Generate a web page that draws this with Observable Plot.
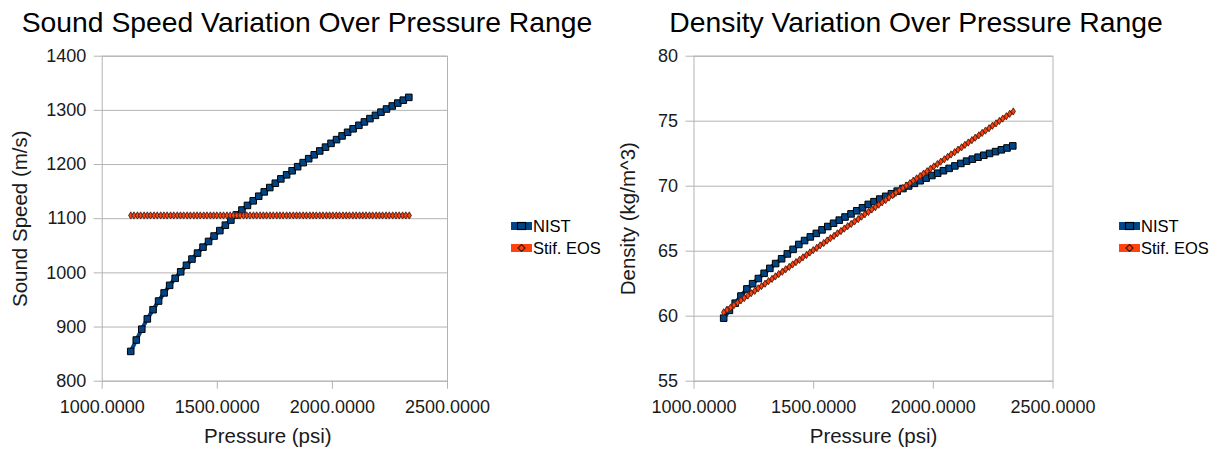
<!DOCTYPE html>
<html><head><meta charset="utf-8">
<script src="https://cdn.jsdelivr.net/npm/d3@7"></script>
<script src="https://cdn.jsdelivr.net/npm/@observablehq/plot@0.6"></script>
<style>
body{margin:0;background:#fff;font-family:"Liberation Sans",Arial,sans-serif;}
#root{position:relative;width:1220px;height:449px;overflow:hidden;background:#fff}
.title{position:absolute;top:6px;font-size:28.3px;text-align:center;white-space:nowrap;color:#000;line-height:32px}
.chart{position:absolute;top:40px}
.legend{position:absolute;font-size:16.5px;color:#000;line-height:22px}
.legend .row{display:flex;align-items:center;height:22px}
.legend svg{margin-right:1px}
</style></head><body><div id="root"></div><script>
// ---------- data ----------
const seriesNames = ["NIST", "Stif. EOS"];
const nistPressure = [1124,1148,1172,1196,1221,1245,1269,1293,1317,1341,1366,1390,1414,1438,1462,1486,1511,1535,1559,1583,1607,1631,1656,1680,1704,1728,1752,1776,1801,1825,1849,1873,1897,1921,1945,1970,1994,2018,2042,2066,2090,2115,2139,2163,2187,2211,2235,2260,2284,2308,2332];
const nistSoundSpeed = [855,876,896,915,932,948,963,977,990,1002,1014,1025.5,1036.5,1047.5,1058,1068,1078,1088,1097.5,1107,1116,1124.5,1133,1141.5,1149.5,1157.5,1165.5,1173.5,1181,1188.5,1196,1203.5,1210.8,1218,1225.1,1232.1,1239.1,1246,1252.8,1259.5,1266,1272.4,1278.7,1284.8,1290.8,1296.7,1302.5,1308.1,1313.5,1318.8,1324];
const nistDensity = [59.85,60.45,61.0,61.55,62.1,62.5,62.9,63.3,63.68,64.05,64.42,64.79,65.14,65.52,65.82,66.1,66.37,66.64,66.9,67.15,67.39,67.63,67.87,68.11,68.34,68.6,68.81,69.01,69.22,69.42,69.62,69.82,70.02,70.22,70.42,70.62,70.82,71.0,71.19,71.37,71.56,71.75,71.93,72.08,72.23,72.38,72.52,72.66,72.8,72.94,73.1];
const eosPressure = [1124,1138,1153,1167,1182,1196,1210,1225,1239,1254,1268,1282,1297,1311,1326,1340,1354,1369,1383,1398,1412,1426,1441,1455,1470,1484,1498,1513,1527,1542,1556,1570,1585,1599,1614,1628,1642,1657,1671,1686,1700,1714,1729,1743,1758,1772,1786,1801,1815,1830,1844,1858,1873,1887,1902,1916,1930,1945,1959,1974,1988,2002,2017,2031,2046,2060,2074,2089,2103,2118,2132,2146,2161,2175,2190,2204,2218,2233,2247,2262,2276,2290,2305,2319,2334];
const eosSoundSpeed = [1106,1106,1106,1106,1106,1106,1106,1106,1106,1106,1106,1106,1106,1106,1106,1106,1106,1106,1106,1106,1106,1106,1106,1106,1106,1106,1106,1106,1106,1106,1106,1106,1106,1106,1106,1106,1106,1106,1106,1106,1106,1106,1106,1106,1106,1106,1106,1106,1106,1106,1106,1106,1106,1106,1106,1106,1106,1106,1106,1106,1106,1106,1106,1106,1106,1106,1106,1106,1106,1106,1106,1106,1106,1106,1106,1106,1106,1106,1106,1106,1106,1106,1106,1106,1106];
const eosDensity = [60.30,60.48,60.67,60.85,61.03,61.22,61.40,61.59,61.77,61.95,62.14,62.32,62.50,62.69,62.87,63.06,63.24,63.42,63.61,63.79,63.98,64.16,64.34,64.53,64.71,64.90,65.08,65.26,65.45,65.63,65.82,66.00,66.18,66.37,66.55,66.74,66.92,67.10,67.29,67.47,67.66,67.84,68.02,68.21,68.39,68.58,68.76,68.94,69.13,69.31,69.50,69.68,69.86,70.05,70.23,70.42,70.60,70.78,70.97,71.15,71.34,71.52,71.70,71.89,72.07,72.26,72.44,72.62,72.81,72.99,73.18,73.36,73.54,73.73,73.91,74.10,74.28,74.46,74.65,74.83,75.02,75.20,75.38,75.57,75.75];
const xTicks = [1000, 1500, 2000, 2500];
const xTickLabels = ["1000.0000", "1500.0000", "2000.0000", "2500.0000"];
const speedTicks = [800, 900, 1000, 1100, 1200, 1300, 1400];
const densityTicks = [55, 60, 65, 70, 75, 80];

// ---------- styles ----------
const NIST_COLOR = "#004586", EOS_COLOR = "#ff420e", GRID = "#b3b3b3";

function makeChart(cfg) {
  const nist = cfg.nistX.map((x, i) => ({x, y: cfg.nistY[i]}));
  const eos = cfg.eosX.map((x, i) => ({x, y: cfg.eosY[i]}));
  const svg = Plot.plot({
    width: 610, height: 409,
    marginLeft: cfg.ml, marginRight: cfg.mr, marginTop: 15.7, marginBottom: 68.3,
    style: {fontFamily: '"Liberation Sans", Arial, sans-serif', fontSize: "18px", background: "transparent", color: "#000"},
    x: {domain: [1000, 2500]},
    y: {domain: cfg.yDomain},
    marks: [
      Plot.gridY(cfg.yTicks, {stroke: GRID, strokeOpacity: 1}),
      Plot.frame({stroke: GRID}),
      Plot.axisX(xTicks, {tickSize: 8, tickPadding: 11, stroke: GRID, fill: "#1a1a1a", fontSize: 18,
        tickFormat: d => xTickLabels[xTicks.indexOf(d)],
        label: "Pressure (psi)", labelAnchor: "center", labelArrow: "none", labelOffset: 62}),
      Plot.axisY(cfg.yTicks, {tickSize: 8, tickPadding: 8, stroke: GRID, fill: "#1a1a1a", fontSize: 18,
        tickFormat: d => String(d),
        label: cfg.yLabel, labelAnchor: "center", labelArrow: "none", labelOffset: cfg.lo}),
      Plot.line(nist, {x: "x", y: "y", stroke: NIST_COLOR, strokeWidth: 4}),
      Plot.dot(nist, {x: "x", y: "y", symbol: "square", r: 3.7, fill: NIST_COLOR, stroke: "#000", strokeWidth: 1}),
      Plot.line(eos, {x: "x", y: "y", stroke: EOS_COLOR, strokeWidth: 4}),
      Plot.dot(eos, {x: "x", y: "y", symbol: "diamond", r: 2.2, fill: EOS_COLOR, stroke: "#3a1a10", strokeWidth: 0.8})
    ]
  });
  svg.querySelectorAll('[aria-label="x-axis label"], [aria-label="y-axis label"]').forEach(g => {
    g.setAttribute("font-size", "20.5");
    g.querySelectorAll("text").forEach(t => t.setAttribute("font-size", "20.5"));
  });
  if (cfg.xLabelShift) {
    svg.querySelectorAll('[aria-label="x-axis label"]').forEach(g => {
      const tr = g.getAttribute("transform") || "";
      g.setAttribute("transform", `translate(${cfg.xLabelShift},0) ${tr}`);
    });
  }
  return svg;
}

function legendSymbol(color, kind) {
  const ns = "http://www.w3.org/2000/svg";
  const s = document.createElementNS(ns, "svg");
  s.setAttribute("width", 21); s.setAttribute("height", 12);
  const r = document.createElementNS(ns, "rect");
  r.setAttribute("x", 0); r.setAttribute("y", 2); r.setAttribute("width", 21); r.setAttribute("height", 8); r.setAttribute("fill", color);
  s.appendChild(r);
  if (kind === "square") {
    const q = document.createElementNS(ns, "rect");
    q.setAttribute("x", 6.5); q.setAttribute("y", 2.5); q.setAttribute("width", 8); q.setAttribute("height", 7);
    q.setAttribute("fill", color); q.setAttribute("stroke", "#000"); q.setAttribute("stroke-width", 1.2);
    s.appendChild(q);
  } else {
    const p = document.createElementNS(ns, "path");
    p.setAttribute("d", "M10.5,2.5 L14,6 L10.5,9.5 L7,6 Z");
    p.setAttribute("fill", color); p.setAttribute("stroke", "#3a1a10"); p.setAttribute("stroke-width", 1.1);
    s.appendChild(p);
  }
  return s;
}

function addLegend(root, left, top) {
  const lg = document.createElement("div");
  lg.className = "legend";
  lg.style.left = left + "px"; lg.style.top = top + "px";
  [[seriesNames[0], NIST_COLOR, "square"], [seriesNames[1], EOS_COLOR, "diamond"]].forEach(([name, c, k]) => {
    const row = document.createElement("div"); row.className = "row";
    row.appendChild(legendSymbol(c, k));
    const sp = document.createElement("span"); sp.textContent = name;
    row.appendChild(sp); lg.appendChild(row);
  });
  root.appendChild(lg);
}

const root = document.getElementById("root");
function addTitle(text, left, width) {
  const t = document.createElement("div"); t.className = "title";
  t.style.left = left + "px"; t.style.width = width + "px"; t.textContent = text;
  root.appendChild(t);
}

addTitle("Sound Speed Variation Over Pressure Range", 0, 614);
addTitle("Density Variation Over Pressure Range", 610, 612);

const c1 = document.createElement("div"); c1.className = "chart"; c1.style.left = "0px";
c1.appendChild(makeChart({nistX: nistPressure, nistY: nistSoundSpeed, eosX: eosPressure, eosY: eosSoundSpeed,
  yDomain: [800, 1400], yTicks: speedTicks, yLabel: "Sound Speed (m/s)", ml: 101.7, mr: 163, lo: 90, xLabelShift: -7}));
root.appendChild(c1);

const c2 = document.createElement("div"); c2.className = "chart"; c2.style.left = "610px";
c2.appendChild(makeChart({nistX: nistPressure, nistY: nistDensity, eosX: eosPressure, eosY: eosDensity,
  yDomain: [55, 80], yTicks: densityTicks, yLabel: "Density (kg/m^3)", ml: 83.5, mr: 167.5, lo: 74}));
root.appendChild(c2);

addLegend(root, 511, 215);
addLegend(root, 1119, 215);
</script></body></html>
